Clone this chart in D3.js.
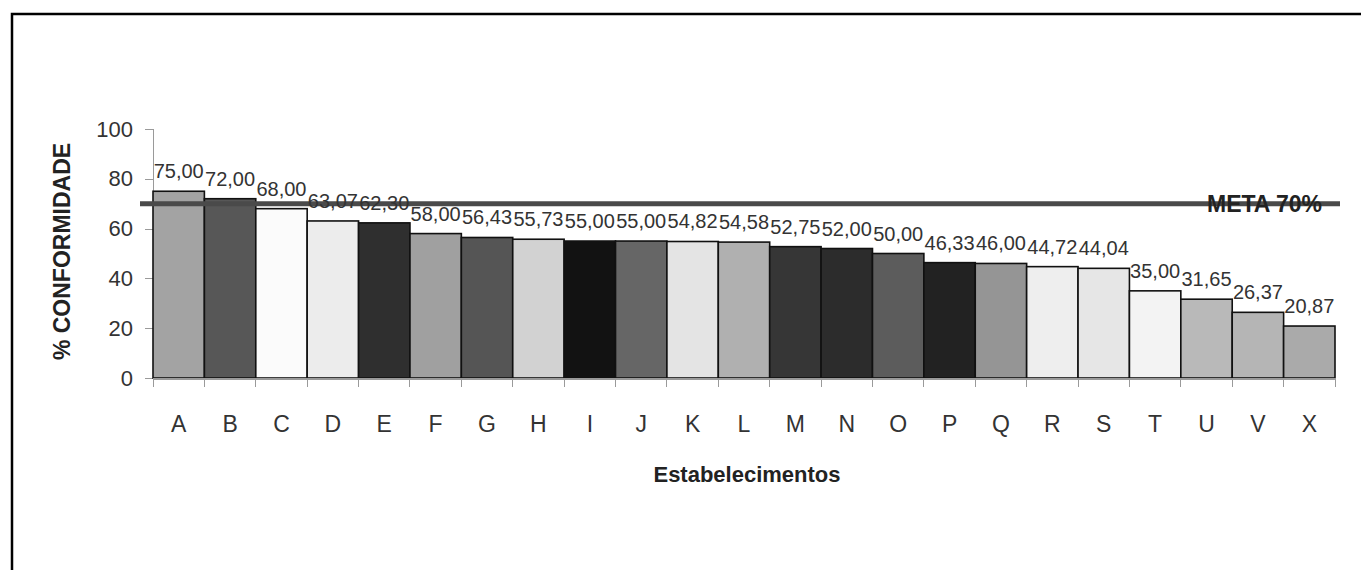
<!DOCTYPE html>
<html lang="pt">
<head>
    <meta charset="UTF-8">
    <title>% Conformidade por estabelecimento</title>
    <script src="https://d3js.org/d3.v7.min.js"></script>
    <style>
        body {
            margin: 0;
            background: #fff;
            font-family: "Liberation Sans", Arial, sans-serif;
        }

        .axis path,
        .axis line {
            stroke: #9a9a9a;
            shape-rendering: crispEdges;
        }

        .axis text {
            fill: #333;
            font-family: "Liberation Sans", Arial, sans-serif;
        }

        .bar {
            stroke: #111;
            stroke-width: 1.6;
        }

        .value-label {
            font-size: 20px;
            fill: #333;
        }

        .axis-title {
            font-weight: bold;
            fill: #222;
        }
    </style>
</head>
<body>
    <svg width="1361" height="570"></svg>
    <script>
        // establishments, in the order shown
        const estabelecimentos = ["A", "B", "C", "D", "E", "F", "G", "H", "I", "J", "K", "L",
            "M", "N", "O", "P", "Q", "R", "S", "T", "U", "V", "X"];
        const conformidade = [75.00, 72.00, 68.00, 63.07, 62.30, 58.00, 56.43, 55.73, 55.00, 55.00,
            54.82, 54.58, 52.75, 52.00, 50.00, 46.33, 46.00, 44.72, 44.04, 35.00, 31.65, 26.37, 20.87];
        const tons = ["#a3a3a3", "#575757", "#fbfbfb", "#ececec", "#2f2f2f", "#a0a0a0", "#555555",
            "#d2d2d2", "#121212", "#666666", "#e4e4e4", "#b0b0b0", "#363636", "#2c2c2c", "#5c5c5c",
            "#222222", "#959595", "#eeeeee", "#e6e6e6", "#f3f3f3", "#b9b9b9", "#b5b5b5", "#aaaaaa"];
        const yTicks = [0, 20, 40, 60, 80, 100];
        const meta = 70;

        const data = estabelecimentos.map((e, i) => ({ nome: e, valor: conformidade[i], cor: tons[i] }));

        const width = 1361;
        const height = 570;
        const margin = { top: 129, right: 26, bottom: 192, left: 153 };

        const ptBR = d3.formatLocale({ decimal: ",", thousands: ".", grouping: [3], currency: ["R$", ""] });
        const fmt = ptBR.format(".2f");

        const svg = d3.select("svg")
            .attr("width", width)
            .attr("height", height);

        // outer frame (right and bottom edges run off the picture)
        svg.append("rect")
            .attr("x", 12).attr("y", 14)
            .attr("width", 1400).attr("height", 620)
            .attr("fill", "none")
            .attr("stroke", "#000")
            .attr("stroke-width", 2.5);

        const x = d3.scaleBand()
            .domain(estabelecimentos)
            .range([margin.left, width - margin.right])
            .padding(0);

        const y = d3.scaleLinear()
            .domain([0, 100])
            .range([height - margin.bottom, margin.top]);

        // y axis
        const yAxis = svg.append("g")
            .attr("class", "axis")
            .attr("transform", `translate(${margin.left},0)`)
            .call(d3.axisLeft(y).tickValues(yTicks).tickSize(8).tickPadding(12));
        yAxis.selectAll("text").style("font-size", "22px");

        // bars
        svg.selectAll("rect.bar")
            .data(data)
            .join("rect")
            .attr("class", "bar")
            .attr("x", d => x(d.nome))
            .attr("y", d => y(d.valor))
            .attr("width", x.bandwidth())
            .attr("height", d => y(0) - y(d.valor))
            .attr("fill", d => d.cor);

        // x axis
        const xAxis = svg.append("g")
            .attr("class", "axis")
            .attr("transform", `translate(0,${y(0)})`)
            .call(d3.axisBottom(x).tickSize(0).tickPadding(38));
        xAxis.select(".domain").attr("stroke", "#222").attr("stroke-width", 2);
        xAxis.selectAll("text").style("font-size", "23px");

        // tick marks between categories
        xAxis.selectAll("line.sep")
            .data(estabelecimentos.concat(["_end"]))
            .join("line")
            .attr("class", "sep")
            .attr("x1", (d, i) => margin.left + i * x.bandwidth())
            .attr("x2", (d, i) => margin.left + i * x.bandwidth())
            .attr("y1", 0)
            .attr("y2", 9);

        // target line
        svg.append("line")
            .attr("x1", margin.left - 13)
            .attr("x2", width - margin.right + 5)
            .attr("y1", y(meta))
            .attr("y2", y(meta))
            .attr("stroke", "#4a4a4a")
            .attr("stroke-width", 5);

        svg.append("text")
            .attr("class", "axis-title")
            .attr("x", 1322)
            .attr("y", y(meta) + 8)
            .attr("text-anchor", "end")
            .style("font-size", "23px")
            .text("META 70%");

        // value labels
        svg.selectAll("text.value-label")
            .data(data)
            .join("text")
            .attr("class", "value-label")
            .attr("x", d => x(d.nome) + x.bandwidth() / 2)
            .attr("y", d => y(d.valor) - 13)
            .attr("text-anchor", "middle")
            .text(d => fmt(d.valor));

        // axis titles
        svg.append("text")
            .attr("class", "axis-title")
            .attr("x", 747)
            .attr("y", 482)
            .attr("text-anchor", "middle")
            .style("font-size", "22px")
            .text("Estabelecimentos");

        svg.append("text")
            .attr("class", "axis-title")
            .attr("transform", `translate(70,${(y(0) + y(100)) / 2 - 2}) rotate(-90)`)
            .attr("text-anchor", "middle")
            .style("font-size", "23px")
            .text("% CONFORMIDADE");
    </script>
</body>
</html>
